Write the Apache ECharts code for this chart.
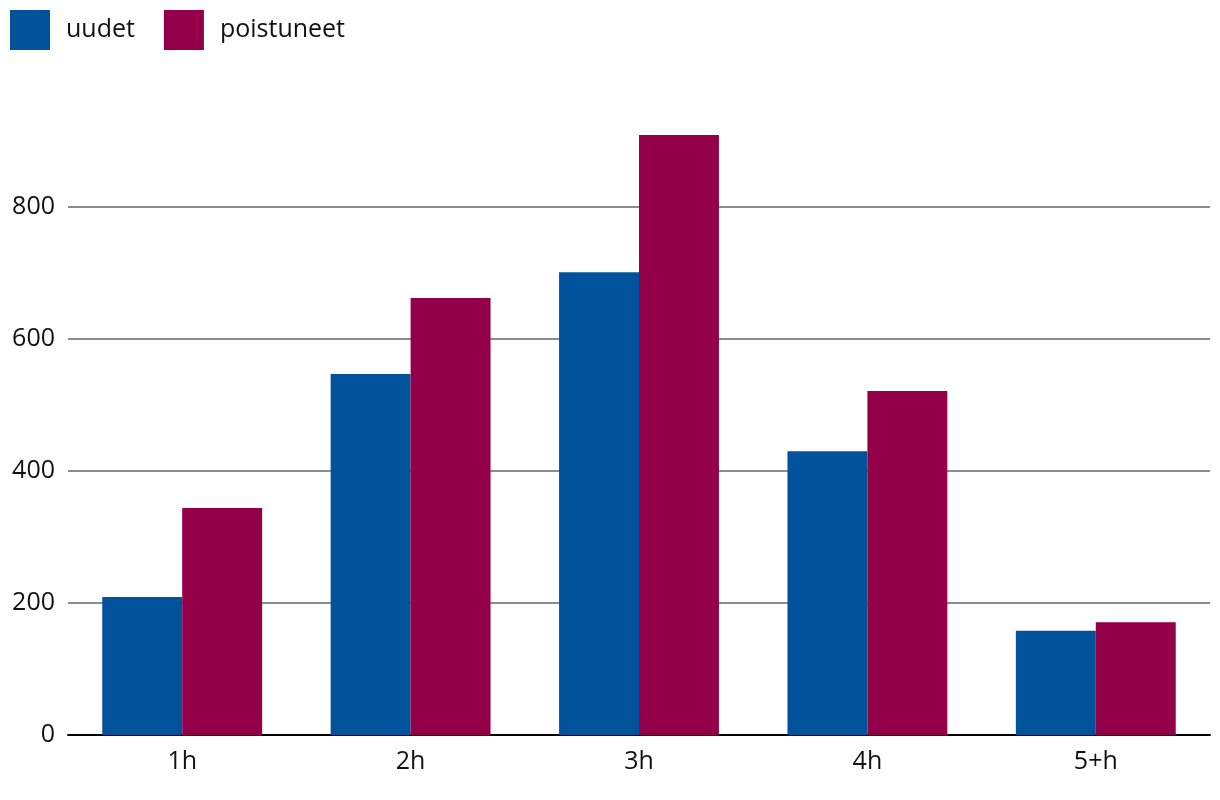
<!DOCTYPE html>
<html>
<head>
<meta charset="utf-8">
<script src="https://cdn.jsdelivr.net/npm/echarts@6/dist/echarts.min.js"></script>
<style>html,body{margin:0;padding:0;background:#fff}#c{width:1220px;height:800px}</style>
</head>
<body>
<div id="c"></div>
<script>
const categories = ['1h', '2h', '3h', '4h', '5+h'];
const uudet = [209, 547, 701, 430, 158];
const poistuneet = [344, 662, 909, 521, 171];
const seriesNames = ['uudet', 'poistuneet'];

const FONT = '"Open Sans", "Noto Sans", sans-serif';
const chart = echarts.init(document.getElementById('c'), null, {renderer: 'canvas'});
chart.setOption({
  animation: false,
  textStyle: {fontFamily: FONT},
  legend: {
    left: 10, top: 10, padding: 0, itemWidth: 40, itemHeight: 40, itemGap: 29,
    icon: 'rect',
    textStyle: {fontSize: 25, color: '#111', fontFamily: FONT, padding: [0, 0, 0, 11]}
  },
  grid: {left: 68, right: 10, top: 135, bottom: 65, containLabel: false},
  xAxis: {
    type: 'category', data: categories,
    axisLine: {lineStyle: {color: '#000', width: 2}},
    axisTick: {show: false},
    axisLabel: {fontSize: 25, color: '#111', margin: 14, fontFamily: FONT}
  },
  yAxis: {
    type: 'value', min: 0, max: 909, interval: 200,
    axisLine: {show: false}, axisTick: {show: false},
    axisLabel: {fontSize: 25, color: '#111', margin: 13, showMaxLabel: false, fontFamily: FONT},
    splitLine: {lineStyle: {color: '#8c8c8c', width: 2}, showMaxLine: false, showMinLine: false}
  },
  series: [
    {name: seriesNames[0], type: 'bar', data: uudet, barGap: '0%', barCategoryGap: '30%', itemStyle: {color: '#00529b'}},
    {name: seriesNames[1], type: 'bar', data: poistuneet, barGap: '0%', barCategoryGap: '30%', itemStyle: {color: '#930049'}}
  ]
});
</script>
</body>
</html>
